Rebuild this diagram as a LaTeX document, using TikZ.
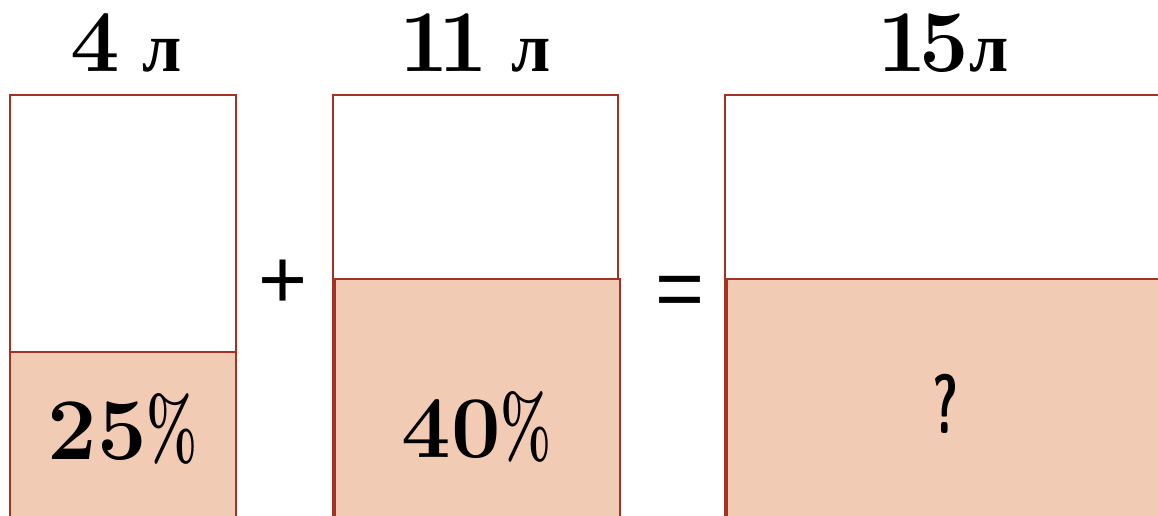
\documentclass[tikz,border=0pt]{standalone}
\usepackage{fontspec}
\newfontfamily\cyrfont{Liberation Serif}
\newfontfamily\symfont{Liberation Sans}
\usepackage{graphicx}
\definecolor{edge}{HTML}{A33224}
\definecolor{liquid}{HTML}{F1CBB4}
\tikzset{
  vessel/.style={draw=edge, line width=2.8pt, fill=white},
  liquidbox/.style={draw=edge, line width=2.8pt, fill=liquid},
  title/.style={anchor=base, inner sep=0pt, font=\fontsize{88}{90}\selectfont\bfseries},
  pct/.style={anchor=base, inner sep=0pt, font=\fontsize{88}{90}\selectfont\bfseries},
  sym/.style={anchor=base, inner sep=0pt, font=\fontsize{84}{86}\selectfont\symfont},
}
\newcommand{\litre}{{\fontsize{70}{72}\selectfont\cyrfont\bfseries л}}
\newcommand{\pcent}{\scalebox{0.62}[1]{\%}}
\begin{document}
\begin{tikzpicture}[x=1pt,y=-1pt]
\useasboundingbox (0,0) rectangle (1158,516);
\fill[white] (0,0) rectangle (1158,516);
\begin{scope}
\clip (0,0) rectangle (1158,516);
% vessel 1
\draw[vessel] (10,95) rectangle (236,540);
\draw[liquidbox] (10,352) rectangle (236,540);
% vessel 2
\draw[vessel] (333,95) rectangle (618,540);
\draw[liquidbox] (335,279) rectangle (620,540);
% vessel 3
\draw[vessel] (725,95) rectangle (1180,540);
\draw[liquidbox] (727,279) rectangle (1180,540);
\end{scope}
% titles
\node[title] (t1) at (126,72) {4\hspace{0.26em}\litre};
\node[title] (t2) at (475,72) {1\kern-0.12em1\hspace{0.26em}\litre};
\node[title] (t3) at (943,72) {1\kern-0.08em5\litre};
% percentages
\node[pct] (p1) at (123,459) {25\pcent};
\node[pct] (p2) at (477,457) {40\pcent};
\node[anchor=base, inner sep=0pt, font=\fontsize{84}{86}\selectfont\sffamily\bfseries] (q) at (946,433) {\scalebox{0.6}[1]{?}};
% operators
\node[sym] (plus) at (283,308) {+};
\node[sym] (eq) at (680,317) {=};
\end{tikzpicture}
\end{document}
